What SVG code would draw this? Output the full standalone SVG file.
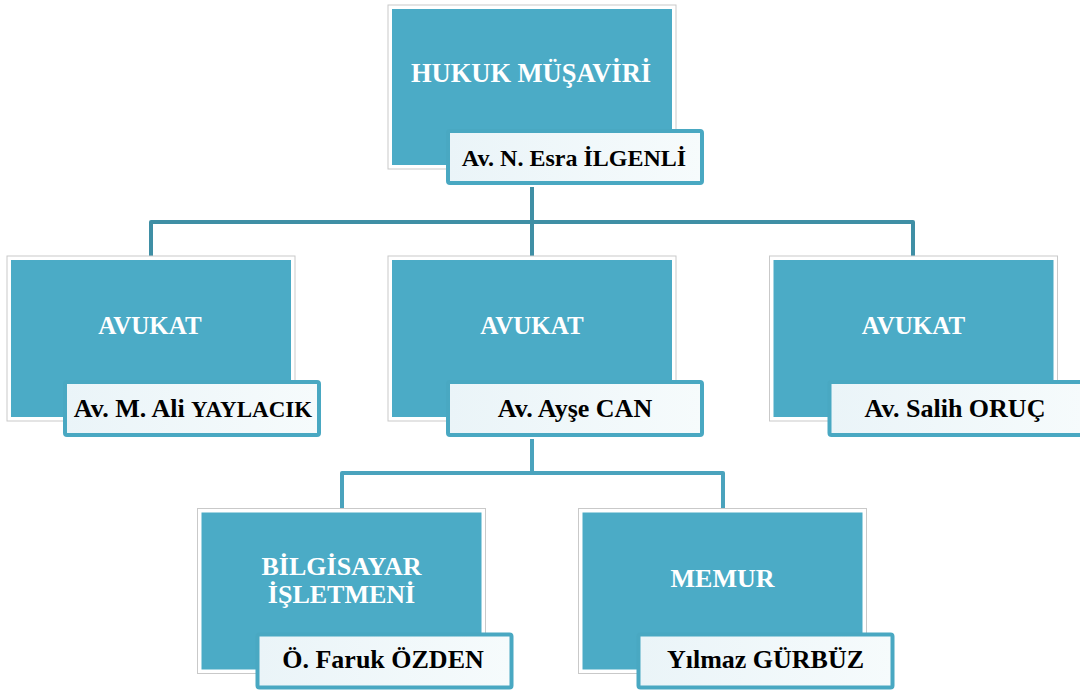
<svg xmlns="http://www.w3.org/2000/svg" width="1080" height="691" viewBox="0 0 1080 691">
<defs>
<linearGradient id="lblg" x1="0" y1="0" x2="1" y2="0">
<stop offset="0" stop-color="#eaf4f8"/>
<stop offset="1" stop-color="#f6fbfc"/>
</linearGradient>
</defs>
<style>
.frame{fill:#ffffff;stroke:#c9c9c9;stroke-width:1}
.fill{fill:#4babc6}
.lbl{fill:url(#lblg);stroke:#49a8c2;stroke-width:4}
.title{font-weight:bold;font-size:26px;fill:#ffffff;text-anchor:middle}
.name{font-weight:bold;font-size:26px;fill:#000000;text-anchor:middle}
.c1{fill:none;stroke:#3f8fa5;stroke-width:4;stroke-linejoin:round}
.c2{fill:none;stroke:#4aa3bd;stroke-width:4;stroke-linejoin:round}
</style>
<g id="connectors">
<path class="c1" d="M532 187 V256 M151 256 V222 H913 V256"/>
<path class="c2" d="M532 439 V473 M342 508 V473 H723 V508"/>
</g>
<g font-family="'Liberation Serif', 'DejaVu Serif', serif">
<g id="hukuk-musaviri">
<rect class="frame" x="388" y="5" width="288" height="164"/>
<rect class="fill" x="392" y="9" width="280" height="156"/>
<text class="title" x="531" y="82" style="font-size:26.5px">HUKUK MÜŞAVİRİ</text>
<rect class="lbl" x="448" y="131" width="254" height="52" rx="2"/>
<text class="name" x="574" y="166" style="font-size:24px">Av. N. Esra İLGENLİ</text>
</g>
<g id="avukat-1">
<rect class="frame" x="7" y="256" width="288" height="165"/>
<rect class="fill" x="11" y="260" width="280" height="157"/>
<text class="title" x="150" y="334" style="font-size:25px">AVUKAT</text>
<rect class="lbl" x="65" y="382" width="254" height="53" rx="2"/>
<text class="name" x="193" y="417">Av. M. Ali <tspan style="font-size:23px">YAYLACIK</tspan></text>
</g>
<g id="avukat-2">
<rect class="frame" x="388" y="256" width="288" height="165"/>
<rect class="fill" x="392" y="260" width="280" height="157"/>
<text class="title" x="532" y="334" style="font-size:25px">AVUKAT</text>
<rect class="lbl" x="448" y="382" width="254" height="53" rx="2"/>
<text class="name" x="575" y="417">Av. Ayşe CAN</text>
</g>
<g id="avukat-3">
<rect class="frame" x="769.5" y="256" width="288" height="165"/>
<rect class="fill" x="773.5" y="260" width="280" height="157"/>
<text class="title" x="913.5" y="334" style="font-size:25px">AVUKAT</text>
<rect class="lbl" x="829.5" y="382" width="254" height="53" rx="2"/>
<text class="name" x="955" y="417">Av. Salih ORUÇ</text>
</g>
<g id="bilgisayar-isletmeni">
<rect class="frame" x="197.5" y="508.5" width="288" height="165"/>
<rect class="fill" x="201.5" y="512.5" width="280" height="157"/>
<text class="title" x="341.5" y="575">BİLGİSAYAR</text>
<text class="title" x="341.5" y="603">İŞLETMENİ</text>
<rect class="lbl" x="257.5" y="634.5" width="254" height="53" rx="2"/>
<text class="name" x="383" y="668">Ö. Faruk ÖZDEN</text>
</g>
<g id="memur">
<rect class="frame" x="578.5" y="508.5" width="288" height="165"/>
<rect class="fill" x="582.5" y="512.5" width="280" height="157"/>
<text class="title" x="722.5" y="587">MEMUR</text>
<rect class="lbl" x="638.5" y="634.5" width="254" height="53" rx="2"/>
<text class="name" x="765.5" y="668">Yılmaz GÜRBÜZ</text>
</g>
</g>
</svg>
